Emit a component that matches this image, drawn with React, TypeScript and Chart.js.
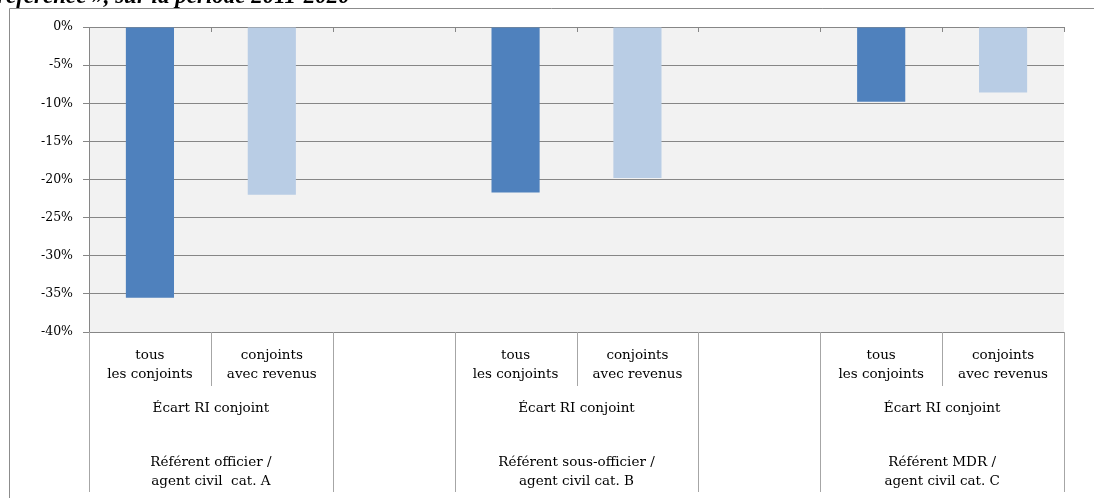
import React, { useEffect, useRef } from "react";
import { Chart, registerables } from "chart.js";

Chart.register(...registerables);

const categories = ["tous|les conjoints", "conjoints|avec revenus", "", "tous|les conjoints", "conjoints|avec revenus", "", "tous|les conjoints", "conjoints|avec revenus"];
const values: (number | null)[] = [-35.5, -22.0, null, -21.7, -19.8, null, -9.8, -8.6];
const barKinds = ["all", "income", "none", "all", "income", "none", "all", "income"];
const groupStarts = [0, 3, 6];
const groupEnds = [1, 4, 7];
const level2Labels = ["Écart RI conjoint", "Écart RI conjoint", "Écart RI conjoint"];
const level3Labels = [
  "Référent officier /|agent civil  cat. A",
  "Référent sous-officier /|agent civil cat. B",
  "Référent MDR /|agent civil cat. C",
];
const titleText = "référence », sur la période 2011-2020";
const yTicks = [0, -5, -10, -15, -20, -25, -30, -35, -40];

const DARK = "#4F81BD";
const LIGHT = "#B9CDE5";
const FONT = "'DejaVu Serif', serif";

export default function App() {
  const ref = useRef<HTMLCanvasElement>(null);
  useEffect(() => {
    const canvas = ref.current!;
    const decor = {
      id: "decor",
      beforeDraw(chart: any) {
        const { ctx, chartArea } = chart;
        const { left, top, right, bottom } = chartArea;
        ctx.save();
        ctx.fillStyle = "#F2F2F2";
        ctx.fillRect(left, top, right - left, bottom - top);
        ctx.restore();
      },
      afterDraw(chart: any) {
        const { ctx, chartArea } = chart;
        const { left, top, right, bottom } = chartArea;
        const n = categories.length;
        const slot = (right - left) / n;
        ctx.save();
        // frame
        ctx.strokeStyle = "#8C8C8C";
        ctx.lineWidth = 1;
        ctx.beginPath();
        ctx.moveTo(9.5, 8.5);
        ctx.lineTo(1094, 8.5);
        ctx.moveTo(9.5, 8.5);
        ctx.lineTo(9.5, 498);
        ctx.stroke();
        // title (clipped at top)
        ctx.fillStyle = "#000";
        ctx.font = "italic bold 23px 'Liberation Serif', serif";
        ctx.textAlign = "left";
        ctx.textBaseline = "alphabetic";
        ctx.fillText(titleText, -3, 3);
        // top axis ticks
        ctx.strokeStyle = "#868686";
        ctx.beginPath();
        for (let i = 0; i <= n; i++) {
          const x = Math.round(left + i * slot) + 0.5;
          ctx.moveTo(x, top);
          ctx.lineTo(x, top + 5);
        }
        ctx.stroke();
        // bottom category table
        ctx.strokeStyle = "#A6A6A6";
        ctx.beginPath();
        const isGroupBoundary = (i: number) =>
          groupStarts.includes(i) || groupEnds.includes(i - 1);
        for (let i = 0; i <= n; i++) {
          const x = Math.round(left + i * slot) + 0.5;
          if (isGroupBoundary(i)) {
            ctx.moveTo(x, bottom);
            ctx.lineTo(x, 492);
          } else if (i > 0 && i < n && categories[i] !== "" && categories[i - 1] !== "") {
            ctx.moveTo(x, bottom);
            ctx.lineTo(x, 386);
          }
        }
        ctx.stroke();
        ctx.fillStyle = "#000";
        ctx.font = "13.5px " + FONT;
        ctx.textAlign = "center";
        ctx.textBaseline = "middle";
        categories.forEach((c, i) => {
          if (!c) return;
          const cx = left + (i + 0.5) * slot;
          const lines = c.split("|");
          lines.forEach((l, k) => ctx.fillText(l, cx, 355 + k * 19.5));
        });
        groupStarts.forEach((s, g) => {
          const cx = left + ((s + groupEnds[g] + 1) / 2) * slot;
          ctx.fillText(level2Labels[g], cx, 408);
          level3Labels[g].split("|").forEach((l, k) => ctx.fillText(l, cx, 462 + k * 19.5));
        });
        ctx.restore();
      },
    };
    const chart = new Chart(canvas, {
      type: "bar",
      data: {
        labels: categories,
        datasets: [
          {
            data: values,
            backgroundColor: barKinds.map((k) => (k === "all" ? DARK : LIGHT)),
            borderWidth: 0,
            barPercentage: 0.395,
            categoryPercentage: 1,
          },
        ],
      },
      options: {
        responsive: false,
        animation: false,
        layout: { padding: { left: 0, top: 27, right: 30, bottom: 166 } },
        plugins: { legend: { display: false }, tooltip: { enabled: false }, title: { display: false } },
        scales: {
          x: { display: false },
          y: {
            min: -40,
            max: 0,
            afterFit: (s: any) => {
              s.width = 89;
            },
            afterBuildTicks: (s: any) => {
              s.ticks = yTicks.map((v) => ({ value: v }));
            },
            ticks: {
              callback: (v: any) => v + "%",
              color: "#000",
              font: { family: FONT, size: 12.5 },
              padding: 10,
            },
            grid: { color: "#868686", tickLength: 6, drawOnChartArea: true },
            border: { display: true, color: "#868686" },
          },
        },
      },
      plugins: [decor],
    });
    return () => chart.destroy();
  }, []);
  return (
    <div style={{ position: "fixed", left: 0, top: 0, width: 1094, height: 498, background: "#fff" }}>
      <canvas ref={ref} width={1094} height={498} />
    </div>
  );
}
